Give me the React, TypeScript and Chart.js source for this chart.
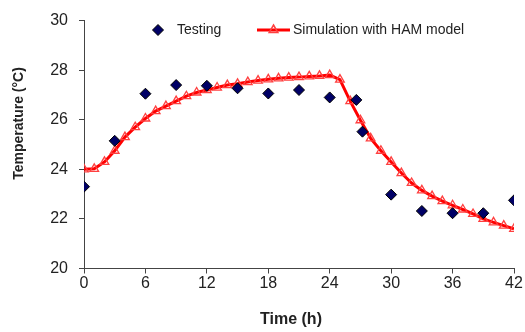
import React, { useEffect, useRef } from "react";
import { Chart, registerables } from "chart.js";

Chart.register(...registerables);

const testingTime = [0, 3, 6, 9, 12, 15, 18, 21, 24, 26.6, 27.2, 30, 33, 36, 39, 42];
const testingTemp = [23.3, 25.15, 27.05, 27.4, 27.37, 27.27, 27.06, 27.2, 26.9, 26.8, 25.52, 22.98, 22.32, 22.23, 22.23, 22.75];

const simTime = [
  0, 1, 2, 3, 4, 5, 6, 7, 8, 9, 10, 11, 12, 13, 14, 15, 16, 17, 18, 19, 20, 21,
  22, 23, 24, 25, 26, 27, 28, 29, 30, 31, 32, 33, 34, 35, 36, 37, 38, 39, 40, 41, 42,
];
const simTemp = [
  24.0, 24.02, 24.3, 24.75, 25.3, 25.7, 26.05, 26.35, 26.55, 26.75, 26.95, 27.1,
  27.2, 27.3, 27.4, 27.45, 27.52, 27.58, 27.63, 27.67, 27.7, 27.72, 27.75, 27.77,
  27.8, 27.62, 26.75, 25.98, 25.25, 24.75, 24.3, 23.85, 23.45, 23.15, 22.92,
  22.72, 22.55, 22.38, 22.2, 22.0, 21.86, 21.73, 21.6,
];

const seriesNames = ["Testing", "Simulation with HAM model"];
const xTitle = "Time (h)";
const yTitle = "Temperature (°C)";

const FONT = "Arial, 'Liberation Sans', sans-serif";
const AXIS_COLOR = "#444444";
const TEXT_COLOR = "#222222";
const DIAMOND_FILL = "#000066";
const RED = "#ff0000";
const TRI_RED = "#ff4040";

const overlayPlugin = {
  id: "overlay",
  afterDraw(chart: any) {
    const ctx = chart.ctx as CanvasRenderingContext2D;
    ctx.save();
    // Legend
    const ly = 30;
    // diamond
    ctx.beginPath();
    const dx = 158, r = 5.5;
    ctx.moveTo(dx, ly - r);
    ctx.lineTo(dx + r, ly);
    ctx.lineTo(dx, ly + r);
    ctx.lineTo(dx - r, ly);
    ctx.closePath();
    ctx.fillStyle = DIAMOND_FILL;
    ctx.fill();
    ctx.strokeStyle = "#000000";
    ctx.lineWidth = 1;
    ctx.stroke();
    ctx.fillStyle = TEXT_COLOR;
    ctx.font = `14px ${FONT}`;
    ctx.textBaseline = "middle";
    ctx.textAlign = "left";
    ctx.fillText(seriesNames[0], 177, ly);
    // line + triangle
    ctx.beginPath();
    ctx.moveTo(257, ly);
    ctx.lineTo(290, ly);
    ctx.strokeStyle = RED;
    ctx.lineWidth = 3;
    ctx.stroke();
    const tx = 273.5, tr = 5;
    ctx.beginPath();
    ctx.moveTo(tx, ly - tr);
    ctx.lineTo(tx + tr * 0.87, ly + tr * 0.5);
    ctx.lineTo(tx - tr * 0.87, ly + tr * 0.5);
    ctx.closePath();
    ctx.strokeStyle = TRI_RED;
    ctx.lineWidth = 1.5;
    ctx.stroke();
    ctx.fillStyle = TEXT_COLOR;
    ctx.fillText(seriesNames[1], 293, ly);

    // Axis titles
    ctx.font = `bold 16px ${FONT}`;
    ctx.textAlign = "center";
    ctx.textBaseline = "middle";
    ctx.fillStyle = TEXT_COLOR;
    ctx.fillText(xTitle, 291, 320);

    ctx.translate(19.5, 123.5);
    ctx.rotate(-Math.PI / 2);
    ctx.font = `bold 14px ${FONT}`;
    ctx.fillText(yTitle, 0, 0);
    ctx.restore();
  },
};

export default function App() {
  const ref = useRef<HTMLCanvasElement | null>(null);

  useEffect(() => {
    if (!ref.current) return;
    const chart = new Chart(ref.current, {
      type: "scatter",
      data: {
        datasets: [
          {
            label: seriesNames[1],
            data: simTime.map((t, i) => ({ x: t, y: simTemp[i] })),
            showLine: true,
            borderColor: RED,
            borderWidth: 3,
            pointStyle: "triangle",
            pointRadius: 5,
            pointBorderColor: TRI_RED,
            pointBackgroundColor: "rgba(255,255,255,0)",
            pointBorderWidth: 1.3,
            tension: 0,
            order: 2,
          },
          {
            label: seriesNames[0],
            data: testingTime.map((t, i) => ({ x: t, y: testingTemp[i] })),
            showLine: false,
            pointStyle: "rectRot",
            pointRadius: 5.5,
            pointBackgroundColor: DIAMOND_FILL,
            pointBorderColor: "#000000",
            pointBorderWidth: 1,
            order: 1,
          },
        ],
      },
      options: {
        responsive: false,
        animation: false,
        layout: { padding: { top: 17, right: 11, left: 0, bottom: 0 } },
        plugins: {
          legend: { display: false },
          tooltip: { enabled: false },
        },
        scales: {
          x: {
            type: "linear",
            min: 0,
            max: 42,
            afterFit: (s: any) => {
              s.height = 63.5;
            },
            ticks: {
              stepSize: 6,
              padding: 0,
              color: TEXT_COLOR,
              font: { family: FONT, size: 16 },
              maxRotation: 0,
            },
            grid: {
              drawOnChartArea: false,
              drawTicks: true,
              tickLength: 5,
              color: AXIS_COLOR,
            },
            border: { color: AXIS_COLOR, width: 1 },
          },
          y: {
            type: "linear",
            min: 20,
            max: 30,
            afterFit: (s: any) => {
              s.width = 84;
            },
            ticks: {
              stepSize: 2,
              padding: 11,
              color: TEXT_COLOR,
              font: { family: FONT, size: 16 },
            },
            grid: {
              drawOnChartArea: false,
              drawTicks: true,
              tickLength: 5,
              color: AXIS_COLOR,
            },
            border: { color: AXIS_COLOR, width: 1 },
          },
        },
      },
      plugins: [overlayPlugin],
    });
    return () => chart.destroy();
  }, []);

  return (
    <div style={{ position: "fixed", left: 0, top: 0, width: 525, height: 332, background: "#ffffff" }}>
      <canvas ref={ref} width={525} height={332} style={{ display: "block" }} />
    </div>
  );
}
